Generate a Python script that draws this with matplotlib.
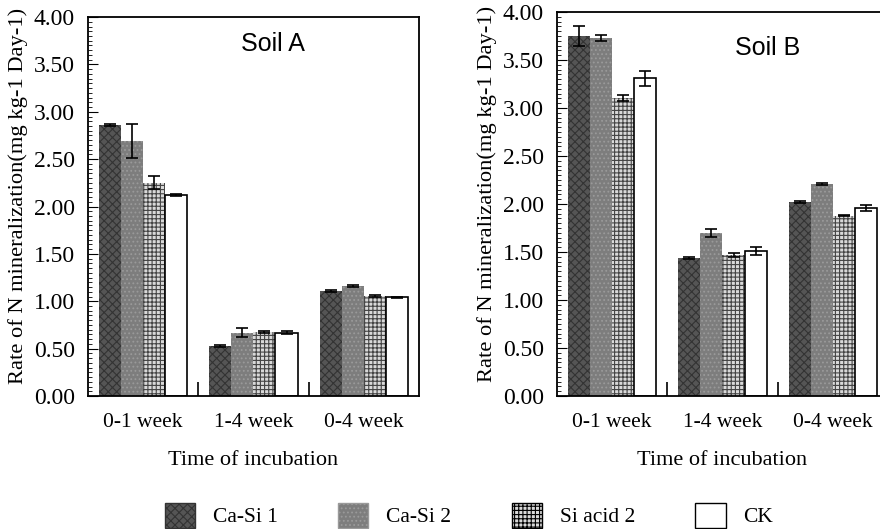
import matplotlib
matplotlib.use("Agg")
import matplotlib.pyplot as plt
from matplotlib.patches import Patch
from matplotlib.ticker import MultipleLocator, FormatStrFormatter
import numpy as np

plt.rcParams["font.family"] = "Liberation Serif"
plt.rcParams["hatch.linewidth"] = 0.8

periods = ["0-1 week", "1-4 week", "0-4 week"]
treatments = ["Ca-Si 1", "Ca-Si 2", "Si acid 2", "CK"]

# rows = treatments, columns = periods
soil_a = [[2.86, 0.53, 1.11],
          [2.69, 0.67, 1.16],
          [2.25, 0.68, 1.06],
          [2.12, 0.67, 1.04]]
soil_a_err = [[0.01, 0.01, 0.01],
              [0.18, 0.05, 0.01],
              [0.07, 0.01, 0.01],
              [0.01, 0.02, 0.01]]
soil_b = [[3.75, 1.44, 2.02],
          [3.73, 1.70, 2.21],
          [3.10, 1.47, 1.88],
          [3.31, 1.51, 1.96]]
soil_b_err = [[0.10, 0.01, 0.01],
              [0.03, 0.04, 0.01],
              [0.03, 0.02, 0.01],
              [0.08, 0.04, 0.03]]

faces = ["#555555", "#7d7d7d", "#d9d9d9", "white"]
hatch_cols = ["#333333", "#9a9a9a", "#444444", "black"]
hatches = ["xxxx", "....", "++++", None]

fig = plt.figure(figsize=(8.8, 5.29), dpi=100)
ax_a = fig.add_axes([0.1, 0.2514, 0.376, 0.7164])
ax_b = fig.add_axes([0.633, 0.2514, 0.376, 0.726])

x = np.arange(len(periods))
w = 0.2


def draw(ax, vals, errs, title, tx, ty, ly):
    for i in range(4):
        pos = x - 0.3 + i * w
        lw = 1.2 if i == 3 else 0
        ax.bar(pos, vals[i], w, color=faces[i], edgecolor=hatch_cols[i],
               hatch=hatches[i], linewidth=lw, zorder=2)
        ax.errorbar(pos, vals[i], yerr=errs[i], fmt="none", ecolor="black",
                    elinewidth=1.2, capsize=4.5, capthick=1.2, zorder=3)
    ax.set_xlim(-0.5, 2.5)
    ax.set_ylim(0, 4)
    ax.yaxis.set_major_locator(MultipleLocator(0.5))
    ax.yaxis.set_minor_locator(MultipleLocator(0.05))
    ax.yaxis.set_major_formatter(FormatStrFormatter("%.2f"))
    ax.tick_params(axis="y", which="major", direction="in", length=7,
                   labelsize=17, pad=9.5)
    ax.tick_params(axis="y", which="minor", direction="in", length=3)
    ax.set_xticks(x)
    ax.set_xticklabels(periods)
    ax.tick_params(axis="x", which="major", length=0, labelsize=15.5, pad=12)
    ax.set_xticks([0.5, 1.5], minor=True)
    ax.tick_params(axis="x", which="minor", direction="in", length=10,
                   width=1.2)
    ax.set_xlabel("Time of incubation", fontsize=16, labelpad=14)
    ax.set_ylabel("Rate of N mineralization(mg kg-1 Day-1)", fontsize=16.2,
                  labelpad=4)
    ax.yaxis.label.set_y(ly)
    for s in ax.spines.values():
        s.set_linewidth(1.3)
    ax.text(tx, ty, title, ha="center", va="center", fontsize=18,
            family="Liberation Sans", transform=ax.transAxes)


draw(ax_a, soil_a, soil_a_err, "Soil A", 0.559, 0.929, 0.528)
draw(ax_b, soil_b, soil_b_err, "Soil B", 0.637, 0.906, 0.526)

handles = [Patch(facecolor=faces[i], edgecolor="black" if i >= 2 else hatch_cols[i],
                 hatch=hatches[i], linewidth=1) for i in range(4)]
fig.legend(handles, treatments, loc="center left",
           bbox_to_anchor=(154 / 880, 0.026), ncol=4, frameon=False,
           fontsize=15.5, handlelength=1.4, handleheight=1.4,
           columnspacing=2.8, handletextpad=0.84, borderpad=0)

fig.savefig("out.png", dpi=100)
